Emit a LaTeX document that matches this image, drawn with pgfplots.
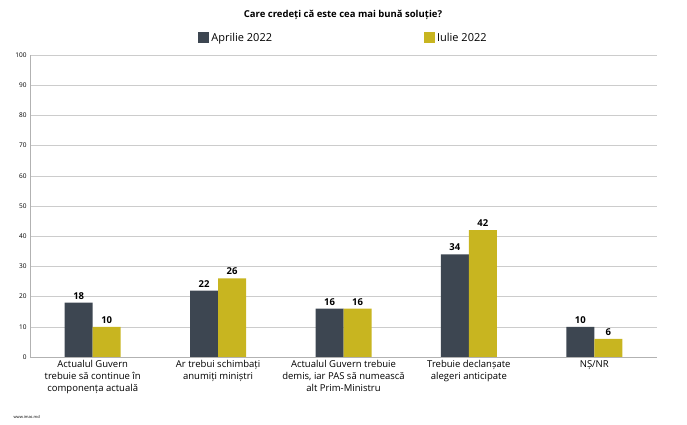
\documentclass[border=0pt]{standalone}
\usepackage{pgfplots}
\pgfplotsset{compat=1.18}
\usepackage{fontspec}
\setmainfont{Open Sans}
\definecolor{cA}{HTML}{3D4651}
\definecolor{cB}{HTML}{C8B520}
\begin{document}
\begin{tikzpicture}[x=1pt,y=1pt]
\path (0,0) rectangle (687,425);
\begin{axis}[at={(30pt,68pt)},anchor=south west,scale only axis,width=627pt,height=302pt,
ymin=0,ymax=100,ytick={0,10,...,100},xmin=-0.5,xmax=4.5,
xtick={0,1,2,3,4},xticklabels={{Actualul Guvern\\trebuie să continue în\\componența actuală},{Ar trebui schimbați\\anumiți miniștri},{Actualul Guvern trebuie\\demis, iar PAS să numească\\alt Prim-Ministru},{Trebuie declanșate\\alegeri anticipate},{NȘ/NR}},
xticklabel style={align=center,font=\fontsize{9.5}{12}\selectfont},
yticklabel style={font=\fontsize{6.5}{7}\selectfont},
/pgf/number format/assume math mode=true,
major tick length=0pt,
ymajorgrids,grid style={gray!40},axis line style={gray!60},
axis y line*=left,axis x line*=bottom,
ybar=0pt,bar width=28pt,
nodes near coords,nodes near coords style={font=\bfseries\fontsize{9.5}{11}\selectfont},
legend style={at={(0.5,1.025)},anchor=south,draw=none,legend columns=2,font=\fontsize{11}{13}\selectfont,/tikz/every even column/.append style={column sep=150pt}},
legend image code/.code={\fill[#1] (0pt,-5pt) rectangle (11pt,6pt);},
]
\addplot[fill=cA,draw=none] coordinates {(0,18)(1,22)(2,16)(3,34)(4,10)};
\addplot[fill=cB,draw=none] coordinates {(0,10)(1,26)(2,16)(3,42)(4,6)};
\legend{Aprilie 2022,Iulie 2022}
\end{axis}
\node[font=\bfseries\fontsize{9.5}{11}\selectfont] at (343,410) {Care credeți că este cea mai bună soluție?};
\node[font=\fontsize{4}{5}\selectfont,anchor=west] at (10,8) {www.imas.md};
\end{tikzpicture}
\end{document}
